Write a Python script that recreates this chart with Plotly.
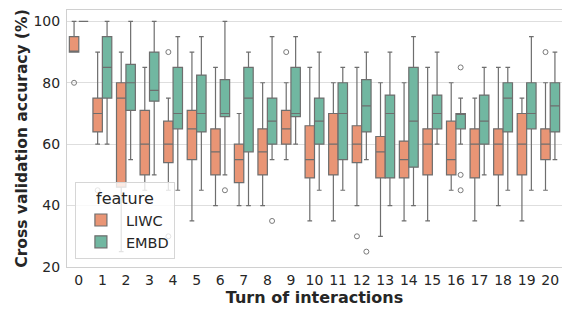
import plotly.graph_objects as go

# ---- data ----
turns = list(range(21))
tick_labels = [str(t) for t in turns]

# LIWC box statistics
liwc_q1     = [90, 64, 46, 50, 54, 55, 50, 47.5, 50, 60, 49, 50, 54, 49, 49, 50, 50, 49, 50, 50, 55]
liwc_median = [90, 70, 75, 60, 60, 65, 57.5, 55, 57.5, 65, 55, 60, 60, 57.5, 55, 60, 55, 60, 60, 60, 60]
liwc_q3     = [95, 75, 80, 71, 67.5, 71, 65, 60, 65, 71, 66, 70, 66, 62.5, 61, 65, 67.5, 65, 65, 70, 65]
liwc_low    = [90, 60, 25, 45, 45, 35, 40, 40, 40, 55, 35, 35, 40, 30, 35, 35, 45, 35, 40, 35, 45]
liwc_high   = [100, 90, 90, 85, 75, 90, 85, 70, 80, 80, 85, 80, 85, 80, 80, 85, 80, 75, 85, 75, 80]
liwc_out_turn  = [0, 1, 4, 4, 9, 12, 20]
liwc_out_value = [80, 45, 90, 30, 90, 30, 90]

# EMBD box statistics
embd_q1     = [100, 75, 71, 74, 65, 64, 69, 57.5, 60, 69, 60, 55, 64, 49, 52.5, 65, 65, 60, 64, 65, 64]
embd_median = [100, 85, 80, 77.5, 70, 70, 70, 75, 67.5, 70, 67.5, 70, 72.5, 70, 67.5, 70, 70, 67.5, 75, 70, 72.5]
embd_q3     = [100, 95, 86, 90, 85, 82.5, 81, 85, 75, 85, 75, 80, 81, 76, 85, 76, 70, 76, 80, 80, 80]
embd_low    = [100, 60, 55, 50, 45, 45, 50, 40, 55, 60, 45, 45, 55, 40, 40, 60, 60, 50, 45, 45, 55]
embd_high   = [100, 100, 100, 100, 95, 95, 100, 90, 95, 95, 90, 85, 90, 90, 95, 90, 75, 85, 85, 95, 90]
embd_out_turn  = [6, 8, 12, 16, 16, 16]
embd_out_value = [45, 35, 25, 85, 50, 45]

series = [
    ("LIWC", liwc_q1, liwc_median, liwc_q3, liwc_low, liwc_high, liwc_out_turn, liwc_out_value, "#e99575", -0.2),
    ("EMBD", embd_q1, embd_median, embd_q3, embd_low, embd_high, embd_out_turn, embd_out_value, "#71b7a1", 0.2),
]

EDGE = "#6e6e6e"
FONT = "DejaVu Sans"
TXT = "#262626"

fig = go.Figure()
for name, q1, med, q3, lo, hi, ot, ov, col, off in series:
    fig.add_trace(go.Box(
        name=name,
        x=[t + off for t in turns],
        q1=q1, median=med, q3=q3, lowerfence=lo, upperfence=hi,
        width=0.4, whiskerwidth=0.5,
        fillcolor=col,
        line=dict(color=EDGE, width=1.2),
        boxpoints=False,
        showlegend=True,
    ))
    fig.add_trace(go.Scatter(
        x=[t + off for t in ot], y=ov,
        mode="markers",
        marker=dict(symbol="circle-open", size=5, color="#7a7a7a", line=dict(width=1)),
        showlegend=False, hoverinfo="skip",
    ))

# the page body has an 8px margin, so the figure is 8px smaller than the window
fig.update_layout(
    width=562, height=314,
    margin=dict(l=59, r=8, t=2, b=55),
    paper_bgcolor="white", plot_bgcolor="white",
    boxmode="overlay",
    font=dict(family=FONT, size=14, color=TXT),
    legend=dict(
        title=dict(text="feature", font=dict(size=16, color=TXT), side="top center"),
        x=0.016, y=0.03, xanchor="left", yanchor="bottom",
        bgcolor="rgba(255,255,255,0.8)", bordercolor="#d6d6d6", borderwidth=1,
        font=dict(size=14.5, color=TXT),
        tracegroupgap=0, itemwidth=40,
    ),
    xaxis=dict(
        range=[-0.5, 20.5], automargin=False,
        tickmode="array", tickvals=turns, ticktext=tick_labels,
        showgrid=False, zeroline=False,
        showline=True, mirror=True, linecolor="#d0d0d0", linewidth=1,
        ticks="", tickfont=dict(size=14, color=TXT), ticklabelstandoff=0,
        title=dict(text="<b>Turn of interactions</b>", font=dict(size=16, color=TXT), standoff=5),
    ),
    yaxis=dict(
        range=[20, 103.7], automargin=False,
        tickvals=[20, 40, 60, 80, 100],
        showgrid=True, gridcolor="#dedede", gridwidth=1, zeroline=False,
        showline=True, mirror=True, linecolor="#d0d0d0", linewidth=1,
        ticks="", tickfont=dict(size=14, color=TXT), ticklabelstandoff=3,
        title=dict(text="<b>Cross validation accuracy (%)</b>", font=dict(size=15.5, color=TXT), standoff=2),
    ),
)

fig.write_html("out.html")
